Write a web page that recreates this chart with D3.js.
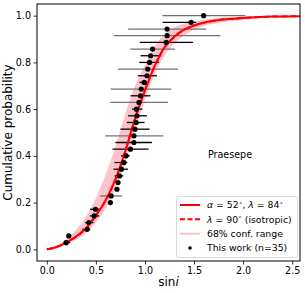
<!DOCTYPE html>
<html><head><meta charset="utf-8">
<script src="https://cdn.jsdelivr.net/npm/d3@7"></script>
<style>
html,body{margin:0;padding:0;background:#fff;}
svg{display:block;font-family:"DejaVu Sans",sans-serif;}
</style></head>
<body><svg id="c" width="305" height="293"></svg>
<script>
// ---- data ----
const sinI = [0.197,0.224,0.411,0.428,0.483,0.496,0.648,0.655,0.715,0.726,
              0.740,0.760,0.785,0.808,0.852,0.888,0.888,0.898,0.911,0.918,
              0.913,0.939,0.955,0.962,0.993,1.021,1.028,1.047,1.057,1.078,
              1.217,1.226,1.226,1.470,1.598];
const errLo = [0.18,0.21,0.363,0.39,0.44,0.44,0.64,0.544,0.70,0.71,
               0.69,0.68,0.69,0.756,0.669,0.70,0.595,0.75,0.816,0.828,
               0.868,0.647,0.853,0.651,0.945,0.927,0.724,0.942,0.955,0.852,
               0.947,0.682,0.828,1.18,1.178];
const errHi = [0.238,0.24,0.442,0.475,0.534,0.544,0.66,0.765,0.73,0.745,
               0.78,0.828,0.82,0.846,1.037,1.071,1.187,1.047,0.996,1.02,
               0.975,1.235,1.056,1.268,1.043,1.122,1.337,1.144,1.166,1.307,
               1.49,1.768,1.624,1.52,2.024];
const errGroup = ["b","b","b","b","b","b","b","a","b","b",
                  "b","b","b","b","b","b","a","b","b","b",
                  "b","a","b","a","b","b","a","b","b","a",
                  "b","a","a","b","a"];
const curveX = [0,0.1,0.2,0.3,0.4,0.5,0.6,0.7,0.8,0.9,1.0,1.1,1.2,1.3,1.4,1.5,1.7,2.0,2.3,2.6];
const curveY = [0,0.01,0.03,0.055,0.09,0.145,0.21,0.30,0.42,0.56,0.68,0.785,0.865,0.91,0.94,0.958,0.978,0.99,0.996,0.998];
const bandHi = [0,0.015,0.045,0.085,0.14,0.22,0.32,0.44,0.58,0.70,0.79,0.87,0.92,0.95,0.965,0.975,0.988,0.995,0.999,0.999];
const bandLo = [0,0.007,0.022,0.042,0.07,0.115,0.175,0.26,0.37,0.51,0.64,0.75,0.83,0.88,0.915,0.94,0.965,0.982,0.994,0.997];
const xTicks = [0,0.5,1.0,1.5,2.0,2.5];
const yTicks = [0,0.2,0.4,0.6,0.8,1.0];
const legendLabels = ["model","iso","band","obs"];

// ---- layout ----
const L = 37, R = 300, T = 4, B = 261;
const svg = d3.select("#c");
const x = d3.scaleLinear().domain([-0.1, 2.58]).range([L, R]);
const y = d3.scaleLinear().domain([-0.05, 1.05]).range([B, T]);
const errColor = d3.scaleOrdinal().domain(["a","b"]).range(["#727272","#000000"]);

const clip = svg.append("clipPath").attr("id","clp").append("rect")
  .attr("x",L).attr("y",T).attr("width",R-L).attr("height",B-T);
const g = svg.append("g").attr("clip-path","url(#clp)");

const curve = curveX.map((v,i)=>({x:v,y:curveY[i],lo:bandLo[i],hi:bandHi[i]}));
g.append("path").datum(curve)
  .attr("d", d3.area().x(d=>x(d.x)).y0(d=>y(d.lo)).y1(d=>y(d.hi)).curve(d3.curveMonotoneX))
  .attr("fill","#ffc0cb").attr("opacity",0.95);

const n = sinI.length;
const pts = sinI.map((v,i)=>({x:v,y:(i+1)/n,lo:errLo[i],hi:errHi[i],g:errGroup[i]}));
g.selectAll("line.err").data(pts).enter().append("line")
  .attr("x1",d=>x(d.lo)).attr("x2",d=>x(d.hi))
  .attr("y1",d=>y(d.y)).attr("y2",d=>y(d.y))
  .attr("stroke",d=>errColor(d.g)).attr("stroke-width",1.3);

const line = d3.line().x(d=>x(d.x)).y(d=>y(d.y)).curve(d3.curveMonotoneX);
g.append("path").datum(curve).attr("d",line).attr("fill","none")
  .attr("stroke","#ff0000").attr("stroke-width",2).attr("stroke-dasharray","6,3");
g.append("path").datum(curve).attr("d",line).attr("fill","none")
  .attr("stroke","#ff0000").attr("stroke-width",2);

g.selectAll("circle").data(pts).enter().append("circle")
  .attr("cx",d=>x(d.x)).attr("cy",d=>y(d.y)).attr("r",2.6).attr("fill","#000");

// axes
const xAxis = svg.append("g").attr("transform",`translate(0,${B})`)
  .call(d3.axisBottom(x).tickValues(xTicks).tickFormat(d3.format(".1f")).tickSize(3.5).tickPadding(2.5));
const yAxis = svg.append("g").attr("transform",`translate(${L},0)`)
  .call(d3.axisLeft(y).tickValues(yTicks).tickFormat(d3.format(".1f")).tickSize(3.5).tickPadding(2.5));
[xAxis,yAxis].forEach(a=>{
  a.select(".domain").remove();
  a.selectAll("text").attr("font-size",9.6).attr("font-family","DejaVu Sans").attr("fill","#000");
  a.selectAll("line").attr("stroke","#000").attr("stroke-width",0.8);
});
svg.append("rect").attr("x",L).attr("y",T).attr("width",R-L).attr("height",B-T)
  .attr("fill","none").attr("stroke","#000").attr("stroke-width",1);

// labels
svg.append("text").attr("transform",`translate(12,${(T+B)/2}) rotate(-90)`)
  .attr("text-anchor","middle").attr("font-size",12).text("Cumulative probability");
const xl = svg.append("text").attr("x",(L+R)/2).attr("y",286).attr("text-anchor","middle").attr("font-size",12);
xl.append("tspan").text("sin");
xl.append("tspan").attr("font-style","italic").text("i");

svg.append("text").attr("x",230).attr("y",158).attr("text-anchor","middle")
  .attr("font-size",9.6).text("Praesepe");

// legend
const lg = svg.append("g");
lg.append("rect").attr("x",176.5).attr("y",196.5).attr("width",121).attr("height",61).attr("rx",2)
  .attr("fill","#fff").attr("fill-opacity",0.8).attr("stroke","#d0d0d0").attr("stroke-width",0.8);
const rowY = d3.scalePoint().domain(legendLabels).range([205, 248]);
lg.append("line").attr("x1",180).attr("x2",200).attr("y1",rowY("model")).attr("y2",rowY("model"))
  .attr("stroke","#ff0000").attr("stroke-width",2);
lg.append("line").attr("x1",180).attr("x2",200).attr("y1",rowY("iso")).attr("y2",rowY("iso"))
  .attr("stroke","#ff0000").attr("stroke-width",2).attr("stroke-dasharray","5,2.5");
lg.append("line").attr("x1",180).attr("x2",200).attr("y1",rowY("band")).attr("y2",rowY("band"))
  .attr("stroke","#ffc0cb").attr("stroke-width",2);
lg.append("circle").attr("cx",190).attr("cy",rowY("obs")).attr("r",1.8).attr("fill","#000");
const fs = 9.3;
const t1 = lg.append("text").attr("x",207).attr("y",rowY("model")+3.3).attr("font-size",fs);
t1.append("tspan").attr("font-style","italic").text("α");
t1.append("tspan").text(" = 52");
t1.append("tspan").attr("font-size",6).attr("dy",-3.5).text("∘");
t1.append("tspan").attr("dy",3.5).text(", ");
t1.append("tspan").attr("font-style","italic").text("λ");
t1.append("tspan").text(" = 84");
t1.append("tspan").attr("font-size",6).attr("dy",-3.5).text("∘");
const t2 = lg.append("text").attr("x",207).attr("y",rowY("iso")+3.3).attr("font-size",fs);
t2.append("tspan").attr("font-style","italic").text("λ");
t2.append("tspan").text(" = 90");
t2.append("tspan").attr("font-size",6).attr("dy",-3.5).text("∘");
t2.append("tspan").attr("dy",3.5).text(" (isotropic)");
lg.append("text").attr("x",207).attr("y",rowY("band")+3.3).attr("font-size",fs).text("68% conf. range");
lg.append("text").attr("x",207).attr("y",rowY("obs")+3.3).attr("font-size",fs).text("This work (n=35)");
</script></body></html>
